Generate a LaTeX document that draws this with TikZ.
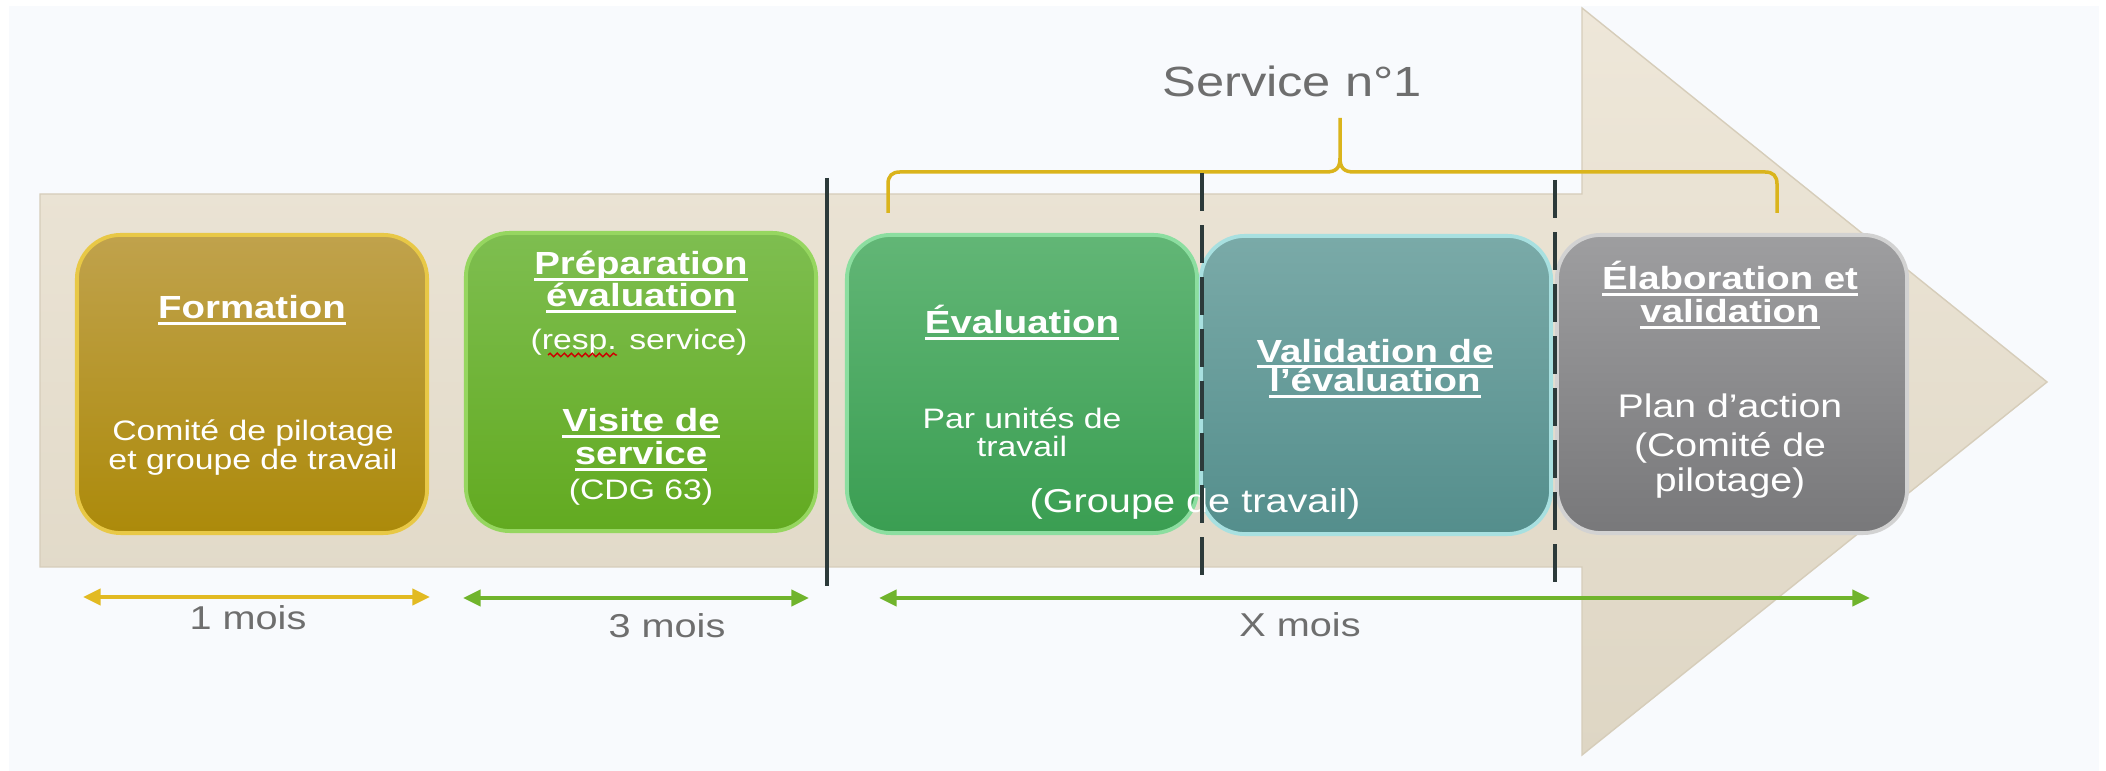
\documentclass[tikz,border=0pt]{standalone}
\usepackage{fontspec}
\setmainfont{Liberation Sans}[FakeStretch=1.2]
\usetikzlibrary{arrows.meta,decorations.pathmorphing}

\definecolor{pagebg}{RGB}{248,250,253}
\definecolor{arrowtop}{RGB}{238,231,217}
\definecolor{arrowbot}{RGB}{222,214,196}
\definecolor{arrowedge}{RGB}{214,205,186}
\definecolor{goldtop}{RGB}{192,162,76}
\definecolor{goldbot}{RGB}{172,138,10}
\definecolor{goldrim}{RGB}{232,200,70}
\definecolor{leaftop}{RGB}{126,190,80}
\definecolor{leafbot}{RGB}{98,170,32}
\definecolor{leafrim}{RGB}{150,214,96}
\definecolor{mintop}{RGB}{98,182,118}
\definecolor{minbot}{RGB}{58,158,82}
\definecolor{minrim}{RGB}{140,222,160}
\definecolor{tealtop}{RGB}{122,170,168}
\definecolor{tealbot}{RGB}{84,142,140}
\definecolor{tealrim}{RGB}{168,224,224}
\definecolor{greytop}{RGB}{158,158,160}
\definecolor{greybot}{RGB}{120,120,122}
\definecolor{greyrim}{RGB}{210,210,210}
\definecolor{bracegold}{RGB}{218,180,28}
\definecolor{spangold}{RGB}{226,186,34}
\definecolor{spangreen}{RGB}{112,180,44}
\definecolor{slate}{RGB}{44,58,58}
\definecolor{labelgrey}{RGB}{110,110,110}

\newcommand{\ulbar}[1]{\setbox0=\hbox{#1}\rlap{\rule[-0.19em]{\wd0}{0.09em}}\box0}

\tikzset{
  phasebox/.style={rounded corners=12.5pt,minimum width=3.5cm,minimum height=2.98cm,inner sep=0pt,line width=1.1pt},
  boxtitle/.style={anchor=base,align=center,text=white,font=\fontsize{9.1}{#1}\selectfont\bfseries},
  boxtitle/.default=9.2pt,
  boxtext/.style={anchor=base,align=center,text=white,font=\fontsize{8}{#1}\selectfont},
  boxtext/.default=8.2pt,
  durlbl/.style={anchor=base,text=labelgrey,font=\fontsize{9.4}{11}\selectfont},
  durarrow/.style={line width=1.4pt,{Triangle[length=5pt,width=4.5pt]}-{Triangle[length=5pt,width=4.5pt]}},
  cutline/.style={slate,line width=1.1pt},
}

\begin{document}
\begin{tikzpicture}[x=0.01cm,y=-0.01cm]
  \useasboundingbox (0,0) rectangle (2106,771);
  \fill[pagebg] (9,6) rectangle (2099,771);

  % big arrow
  \shade[top color=arrowtop,bottom color=arrowbot,draw=arrowedge,line width=0.4pt]
    (40,194) -- (1582,194) -- (1582,8) -- (2047,382) -- (1582,755) -- (1582,567) -- (40,567) -- cycle;

  % phases
  \node[phasebox,top color=goldtop,bottom color=goldbot,draw=goldrim] (F) at (252,384) {};
  \node[phasebox,top color=leaftop,bottom color=leafbot,draw=leafrim] (P) at (641,382) {};
  \node[phasebox,top color=mintop,bottom color=minbot,draw=minrim] (E) at (1022,384) {};
  \node[phasebox,top color=tealtop,bottom color=tealbot,draw=tealrim] (V) at (1376,385) {};
  \node[phasebox,top color=greytop,bottom color=greybot,draw=greyrim] (L) at (1732,384) {};

  % texts (multi-line ones sit on their last baseline)
  \node[boxtitle] (Ft) at (252,319) {\ulbar{Formation}};
  \node[boxtext=8.3pt] (Fb) at (253,470) {Comité de pilotage\\et groupe de travail};

  \node[boxtitle=9.1pt] (Pt) at (641,307) {\ulbar{Préparation}\\\ulbar{évaluation}};
  \node[boxtext] (Pr) at (639,350) {(resp. service)};
  \node[boxtitle=9.4pt] (Pv) at (641,465) {\ulbar{Visite de}\\\ulbar{service}};
  \node[boxtext] (Pc) at (641,500) {(CDG 63)};
  \draw[red!80!black,line width=0.4pt,decorate,decoration={snake,amplitude=0.5pt,segment length=2pt}]
    (548,355) -- (617,355);

  \node[boxtitle] (Et) at (1022,334) {\ulbar{Évaluation}};
  \node[boxtext=8pt] (Eb) at (1022,457) {Par unités de\\travail};
  \node[boxtext,font=\fontsize{9.4}{11}\selectfont] (G) at (1195,513) {(Groupe de travail)};

  \node[boxtitle=8.5pt] (Vt) at (1375,392) {\ulbar{Validation de}\\\ulbar{l’évaluation}};

  \node[boxtitle=9.4pt] (Lt) at (1730,323) {\ulbar{Élaboration et}\\\ulbar{validation}};
  \node[boxtext,font=\fontsize{9.3}{10}\selectfont] (Lp) at (1730,418) {Plan d’action};
  \node[boxtext,font=\fontsize{9.3}{10}\selectfont] (Lc) at (1730,492) {(Comité de\\pilotage)};

  % service brace
  \draw[bracegold,line width=1pt]
    (888,213) -- (888,184) .. controls (888,176) and (892,172) .. (900,172) -- (1326,172)
    .. controls (1336,172) and (1340,168) .. (1340,158) -- (1340,118);
  \draw[bracegold,line width=1pt]
    (1340,158) .. controls (1340,168) and (1344,172) .. (1354,172) -- (1765,172)
    .. controls (1773,172) and (1777,176) .. (1777,184) -- (1777,213);
  \node[anchor=base,text=labelgrey,font=\fontsize{12}{14}\selectfont] (S) at (1292,97) {Service n°1};

  % separators
  \draw[cutline] (827,178) -- (827,586);
  \draw[cutline,dash pattern=on 10.8pt off 4pt] (1202,173) -- (1202,582);
  \draw[cutline,dash pattern=on 10.8pt off 4pt] (1555,180) -- (1555,587);

  % durations
  \coordinate (d1a) at (83,597);
  \coordinate (d1b) at (430,597);
  \coordinate (d2a) at (463,598);
  \coordinate (d2b) at (809,598);
  \coordinate (d3a) at (879,598);
  \coordinate (d3b) at (1870,598);
  \draw[durarrow,spangold] (d1a) -- (d1b);
  \draw[durarrow,spangreen] (d2a) -- (d2b);
  \draw[durarrow,spangreen] (d3a) -- (d3b);
  \node[durlbl] (m1) at (248,630) {1 mois};
  \node[durlbl] (m3) at (667,638) {3 mois};
  \node[durlbl] (mx) at (1300,637) {X mois};
\end{tikzpicture}
\end{document}
